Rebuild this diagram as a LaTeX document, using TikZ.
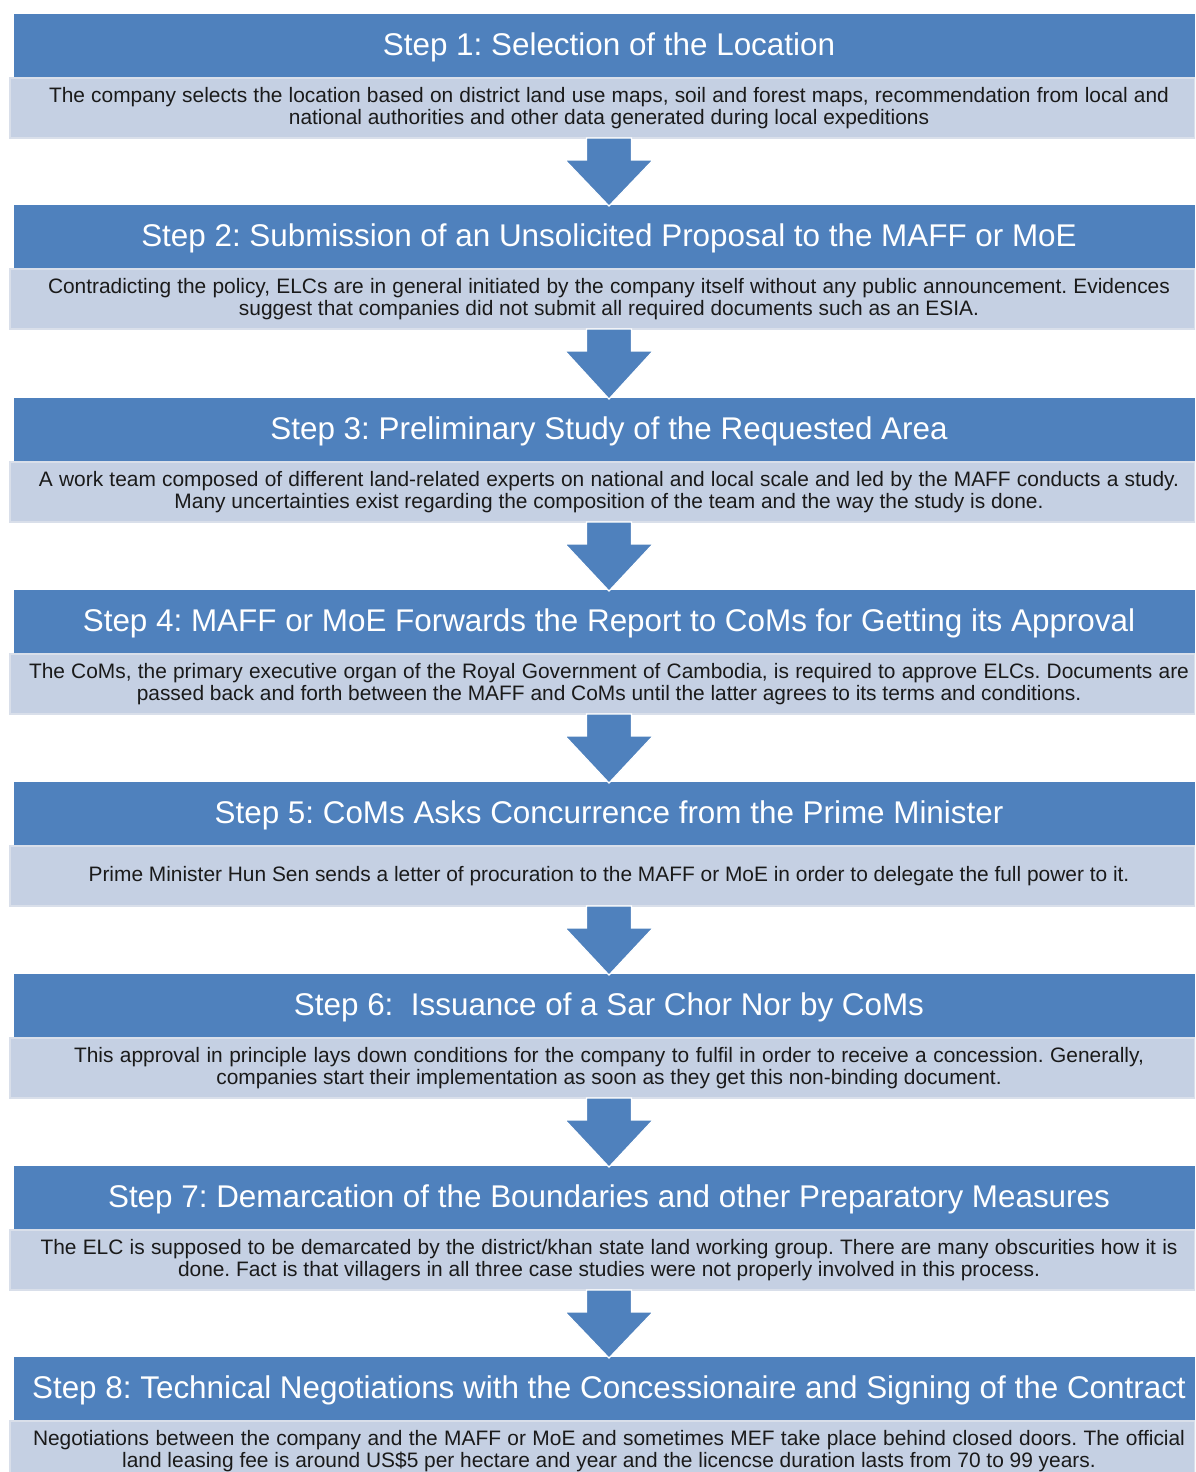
\documentclass[tikz,border=0pt]{standalone}
\usepackage{fontspec}
\setmainfont{Liberation Sans}
\usetikzlibrary{calc}
\frenchspacing

\definecolor{barblue}{HTML}{4F81BD}
\definecolor{notefill}{HTML}{C5D0E3}
\definecolor{noteedge}{HTML}{D9DFEA}
\definecolor{notefont}{HTML}{1A1A1A}

\tikzset{
  headbar/.style={fill=barblue, draw=none, anchor=north west,
    minimum width=590.5pt, minimum height=31.5pt, inner sep=0pt, outer sep=0pt},
  notebox/.style={fill=notefill, draw=noteedge, line width=0.8pt, anchor=north west,
    minimum width=592.5pt, minimum height=30pt, inner sep=0pt, outer sep=0pt},
  headtext/.style={text=white, font=\fontsize{15.7}{18}\selectfont, inner sep=0pt, yshift=-1pt},
  notetext/.style={text=notefont, font=\fontsize{10.45}{10.9}\selectfont, align=center, inner sep=0pt},
  flowarrow/.style={fill=barblue, draw=white, line width=0.6pt, line join=miter},
}

% one step: #1 index, #2 top edge (px), #3 title, #4 description text
\newcommand\flowstep[4]{%
  \node[headbar] (h#1) at (14,#2) {};
  \node[notebox] (d#1) at (10,#2+64) {};
  \node[headtext] (t#1) at (h#1.center -| axis) {#3};
  \node[notetext] (p#1) at (d#1.center -| axis) {#4};
}
% block arrow from the description of one step to the header of the next
\newcommand\flowlink[2]{%
  \draw[flowarrow]
    ($(#1.south -| axis)+(-22.5,0)$) -- ($(#1.south -| axis)+(-22.5,22)$)
    -- ($(#1.south -| axis)+(-44,22)$) -- ($(#2.north -| axis)+(0,1)$)
    -- ($(#1.south -| axis)+(44,22)$) -- ($(#1.south -| axis)+(22.5,22)$)
    -- ($(#1.south -| axis)+(22.5,0)$) -- cycle;
}
\newcommand\firstline[2]{\makebox[#1][s]{#2}}

\begin{document}
\begin{tikzpicture}[x=0.5pt, y=-0.5pt]
  \useasboundingbox (0,0) rectangle (1195,1472);
  \clip (0,0) rectangle (1195,1472);
  \coordinate (axis) at (609,0);

  \flowstep{1}{14}{Step 1: Selection of the Location}
    {\firstline{560pt}{The company selects the location based on district land use maps, soil and forest maps, recommendation from local and}\\
     national authorities and other data generated during local expeditions}
  \flowstep{2}{205}{Step 2: Submission of an Unsolicited Proposal to the MAFF or MoE}
    {\firstline{561pt}{Contradicting the policy, ELCs are in general initiated by the company itself without any public announcement. Evidences}\\
     suggest that companies did not submit all required documents such as an ESIA.}
  \flowstep{3}{398}{Step 3: Preliminary Study of the Requested Area}
    {\firstline{570pt}{A work team composed of different land-related experts on national and local scale and led by the MAFF conducts a study.}\\
     Many uncertainties exist regarding the composition of the team and the way the study is done.}
  \flowstep{4}{590}{Step 4: MAFF or MoE Forwards the Report to CoMs for Getting its Approval}
    {\firstline{580pt}{The CoMs, the primary executive organ of the Royal Government of Cambodia, is required to approve ELCs. Documents are}\\
     passed back and forth between the MAFF and CoMs until the latter agrees to its terms and conditions.}
  \flowstep{5}{782}{Step 5: CoMs Asks Concurrence from the Prime Minister}
    {Prime Minister Hun Sen sends a letter of procuration to the MAFF or MoE in order to delegate the full power to it.}
  \flowstep{6}{974}{Step 6:\ \ Issuance of a Sar Chor Nor by CoMs}
    {\firstline{535pt}{This approval in principle lays down conditions for the company to fulfil in order to receive a concession. Generally,}\\
     companies start their implementation as soon as they get this non-binding document.}
  \flowstep{7}{1166}{Step 7: Demarcation of the Boundaries and other Preparatory Measures}
    {\firstline{568.5pt}{The ELC is supposed to be demarcated by the district/khan state land working group. There are many obscurities how it is}\\
     done. Fact is that villagers in all three case studies were not properly involved in this process.}
  \flowstep{8}{1357}{Step 8: Technical Negotiations with the Concessionaire and Signing of the Contract}
    {\firstline{576pt}{Negotiations between the company and the MAFF or MoE and sometimes MEF take place behind closed doors. The official}\\
     land leasing fee is around US\$5 per hectare and year and the licencse duration lasts from 70 to 99 years.}

  \flowlink{d1}{h2}
  \flowlink{d2}{h3}
  \flowlink{d3}{h4}
  \flowlink{d4}{h5}
  \flowlink{d5}{h6}
  \flowlink{d6}{h7}
  \flowlink{d7}{h8}
\end{tikzpicture}
\end{document}
